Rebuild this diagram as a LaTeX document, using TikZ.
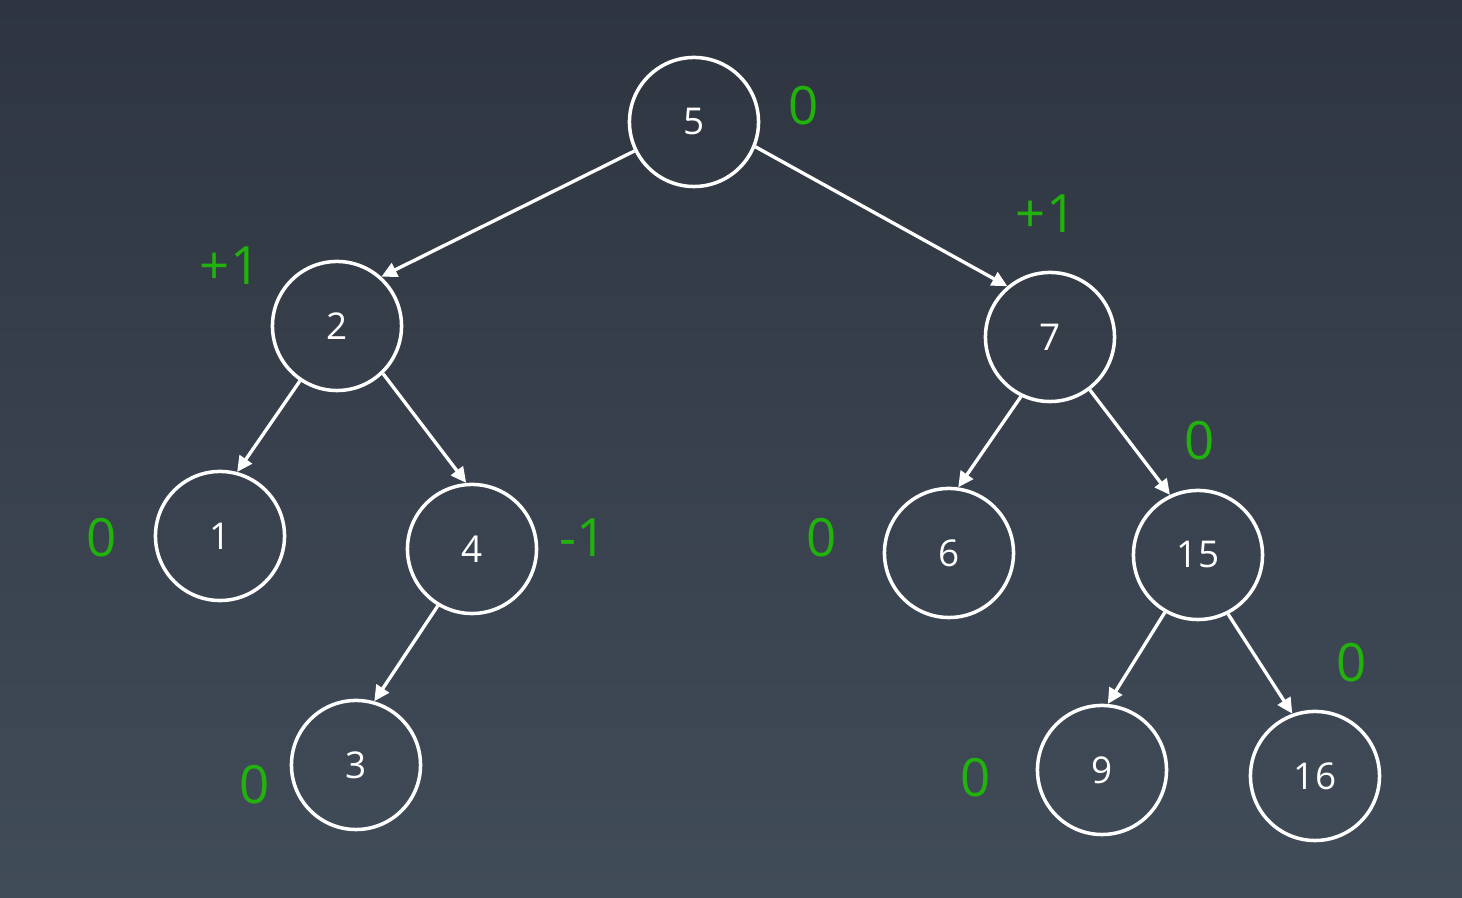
\documentclass[tikz,border=0pt]{standalone}
\usepackage{fontspec}
\setmainfont{Open Sans}
\usetikzlibrary{arrows.meta, positioning, calc}

\definecolor{bgtop}{RGB}{46,53,64}
\definecolor{bgbot}{RGB}{65,76,89}
\definecolor{balgreen}{RGB}{34,178,12}

\begin{document}
\begin{tikzpicture}[x=0.01cm, y=-0.01cm, >={Triangle[length=4.4pt, width=4.2pt]},
    avl/.style={draw=white, circle, line width=1pt, minimum size=1.29cm, inner sep=0pt,
        text=white, font=\fontsize{10.5}{12}\selectfont},
    bal/.style={text=balgreen, font=\fontsize{15}{18}\selectfont},
    edge/.style={->, draw=white, line width=0.95pt}]
    % 背景
    \shade[top color=bgtop, bottom color=bgbot] (0,0) rectangle (1462,898);
    \useasboundingbox (0,0) rectangle (1462,898);

    % 树的节点
    \node[avl] (n5) at (694,122) {5};
    \node[avl] (n2) at (337,326) {2};
    \node[avl] (n7) at (1050,337) {7};
    \node[avl] (n1) at (220,536) {1};
    \node[avl] (n4) at (472,549) {4};
    \node[avl] (n6) at (949,553) {6};
    \node[avl] (n15) at (1198,555) {15};
    \node[avl] (n3) at (356,765) {3};
    \node[avl] (n9) at (1102,770) {9};
    \node[avl] (n16) at (1315,776) {16};

    % 平衡因子
    \node[bal] (b5) at (804,106) {0};
    \node[bal] (b2) at (230,266) {+1};
    \node[bal] (b7) at (1046,214) {+1};
    \node[bal] (b1) at (102,538) {0};
    \node[bal] (b4) at (583,538) {-1};
    \node[bal] (b6) at (822,538) {0};
    \node[bal] (b15) at (1200,441) {0};
    \node[bal] (b3) at (255,785) {0};
    \node[bal] (b9) at (976,778) {0};
    \node[bal] (b16) at (1352,663) {0};

    % 边
    \draw[edge] (n5.206) -- (n2.48);
    \draw[edge] (n5.338) -- (n7.130);
    \draw[edge] (n2.236) -- (n1.75);
    \draw[edge] (n2.314) -- (n4.95);
    \draw[edge] (n4.239) -- (n3.74);
    \draw[edge] (n7.244) -- (n6.82);
    \draw[edge] (n7.307) -- (n15.115);
    \draw[edge] (n15.240) -- (n9.85);
    \draw[edge] (n15.297) -- (n16.110);
\end{tikzpicture}
\end{document}
